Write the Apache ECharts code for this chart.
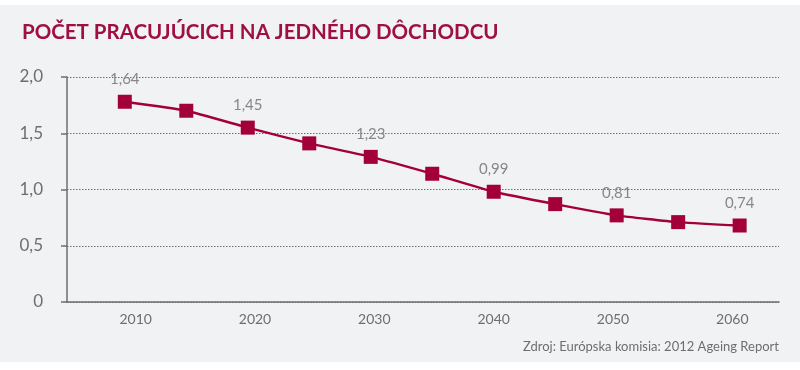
<!DOCTYPE html>
<html>
<head>
<meta charset="utf-8">
<script src="https://cdn.jsdelivr.net/npm/echarts@6/dist/echarts.min.js"></script>
<style>
html,body{margin:0;padding:0;background:#fff;}
#chart{width:800px;height:370px;}
</style>
</head>
<body>
<div id="chart"></div>
<script>
// Data
const years = [2010, 2015, 2020, 2025, 2030, 2035, 2040, 2045, 2050, 2055, 2060];
const values = [1.78, 1.70, 1.55, 1.41, 1.29, 1.14, 0.98, 0.87, 0.77, 0.71, 0.68];
const pointLabels = ['1,64', '', '1,45', '', '1,23', '', '0,99', '', '0,81', '', '0,74'];
const xTickLabels = ['2010', '2020', '2030', '2040', '2050', '2060'];
const titleText = 'POČET PRACUJÚCICH NA JEDNÉHO DÔCHODCU';
const sourceText = 'Zdroj: Európska komisia: 2012 Ageing Report';

const chart = echarts.init(document.getElementById('chart'), null, {renderer: 'canvas'});
const red = '#a3003a';
const axisGray = '#6d6e71';
const fontFam = 'Lato, "Open Sans", sans-serif';

const seriesData = years.map((y, i) => ({
  value: [y, values[i]],
  label: {show: pointLabels[i] !== '', formatter: pointLabels[i]}
}));

chart.setOption({
  backgroundColor: '#ffffff',
  animation: false,
  graphic: [
    {type: 'rect', z: -10, shape: {x: 0, y: 5, width: 800, height: 357}, style: {fill: '#f1f2f4'}},
    {type: 'text', left: 22, top: 22, style: {text: titleText, fill: '#a0103f', font: 'bold 20.5px ' + fontFam}},
    {type: 'text', right: 21, top: 340, style: {text: sourceText, fill: axisGray, font: '13px ' + fontFam}}
  ],
  grid: [
    {left: 67, right: 21, top: 77, bottom: 68, containLabel: false},
    {left: 76, right: 8, top: 77, bottom: 68, containLabel: false}
  ],
  xAxis: [
    {
      type: 'value', gridIndex: 0, min: 2005.3, max: 2063.2,
      axisLine: {show: true, onZero: false, lineStyle: {color: axisGray, width: 1.5}},
      axisTick: {show: false}, axisLabel: {show: false}, splitLine: {show: false}
    },
    {
      type: 'category', gridIndex: 1, data: xTickLabels, boundaryGap: true,
      axisLine: {show: false}, axisTick: {show: false},
      axisLabel: {color: axisGray, fontSize: 14, fontFamily: fontFam, margin: 10}
    }
  ],
  yAxis: [
    {
      type: 'value', gridIndex: 0, min: 0, max: 2, interval: 0.5,
      axisLine: {show: true, lineStyle: {color: axisGray, width: 1.5}},
      axisTick: {show: true, length: 6, lineStyle: {color: axisGray, width: 1.5}},
      axisLabel: {color: axisGray, fontSize: 17, fontFamily: fontFam, margin: 24,
        formatter: v => v === 0 ? '0' : v.toFixed(1).replace('.', ',')},
      splitLine: {show: true, lineStyle: {color: '#6d6e71', type: [1.5, 1.5], width: 1}}
    },
    {type: 'value', gridIndex: 1, show: false, min: 0, max: 2}
  ],
  series: [{
    type: 'line', xAxisIndex: 0, yAxisIndex: 0,
    data: seriesData,
    smooth: 0.15,
    symbol: 'rect', symbolSize: 14,
    lineStyle: {color: red, width: 2.5},
    itemStyle: {color: red},
    label: {position: 'top', distance: 8, color: '#85878a', fontSize: 15, fontFamily: fontFam}
  }]
});
</script>
</body>
</html>
